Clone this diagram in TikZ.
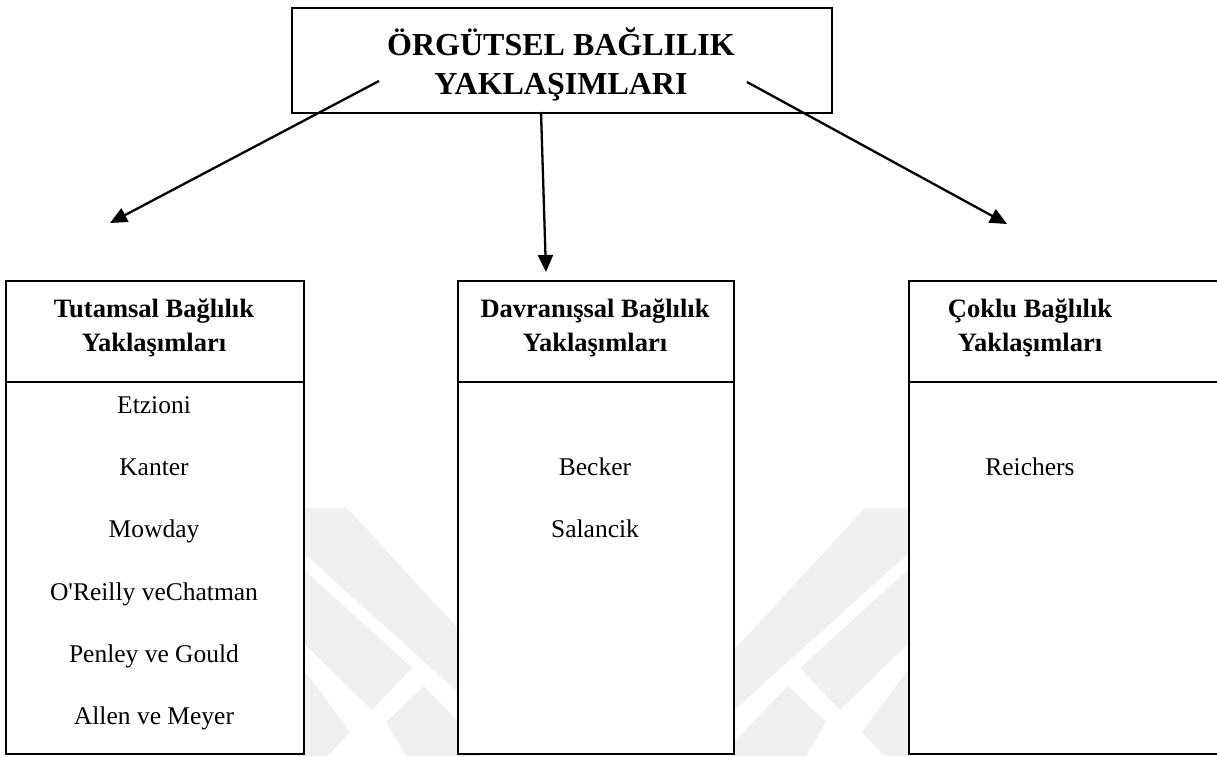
\documentclass[tikz,border=0pt]{standalone}
\usepackage{fontspec}
\setmainfont{Liberation Serif}
\usetikzlibrary{arrows.meta}
\begin{document}
\begin{tikzpicture}[x=1pt,y=-1pt,
  box/.style={draw, line width=2pt, fill=white, inner sep=0pt, anchor=north west},
  conn/.style={line width=2.3pt, -{Triangle[length=17pt,width=15pt]}},
  titlef/.style={font=\fontsize{32}{39}\selectfont\bfseries, align=center, inner sep=0pt},
  headf/.style={font=\fontsize{26.5}{34}\selectfont\bfseries, align=center, inner sep=0pt},
  itemf/.style={font=\fontsize{25.5}{30}\selectfont, anchor=base, inner sep=0pt},
  wm/.style={fill=black!6, draw=none}]
\useasboundingbox (0,0) rectangle (1217,756);
\clip (0,0) rectangle (1217,756);
% faint watermark (symmetric about x=606)
\foreach \s in {1,-1}{
  \begin{scope}[xshift=606pt, xscale=\s, xshift=-606pt]
    \fill[wm] (300,508) -- (347,508) -- (480,652) -- (480,712) -- (300,550) -- cycle;
    \fill[wm] (300,566) -- (412,668) -- (372,710) -- (300,640) -- cycle;
    \fill[wm] (300,664) -- (350,732) -- (328,756) -- (300,756) -- cycle;
    \fill[wm] (386,722) -- (424,686) -- (480,744) -- (480,756) -- (406,756) -- cycle;
  \end{scope}
}
% boxes
\node[box, minimum width=540pt, minimum height=105pt] (top) at (291,7) {};
\node[box, minimum width=298pt, minimum height=101pt] (h1) at (5,280) {};
\node[box, minimum width=298pt, minimum height=372pt] (b1) at (5,381) {};
\node[box, minimum width=276pt, minimum height=101pt] (h2) at (457,280) {};
\node[box, minimum width=276pt, minimum height=372pt] (b2) at (457,381) {};
\node[box, minimum width=340pt, minimum height=101pt] (h3) at (908,280) {};
\node[box, minimum width=340pt, minimum height=372pt] (b3) at (908,381) {};
% texts
\node[titlef] (title) at (561,64) {ÖRGÜTSEL BAĞLILIK\\YAKLAŞIMLARI};
\node[headf] (t1) at (154,328) {Tutamsal Bağlılık\\Yaklaşımları};
\node[headf] (t2) at (595,328) {Davranışsal Bağlılık\\Yaklaşımları};
\node[headf] (t3) at (1030,328) {Çoklu Bağlılık\\Yaklaşımları};
\node[itemf] (i1) at (154,413) {Etzioni};
\node[itemf] (i2) at (154,475) {Kanter};
\node[itemf] (i3) at (154,537) {Mowday};
\node[itemf] (i4) at (154,600) {O\textquotesingle Reilly veChatman};
\node[itemf] (i5) at (154,662) {Penley ve Gould};
\node[itemf] (i6) at (154,724) {Allen ve Meyer};
\node[itemf] (m1) at (595,475) {Becker};
\node[itemf] (m2) at (595,537) {Salancik};
\node[itemf] (r1) at (1030,475) {Reichers};
% connectors
\coordinate (s1) at (379,81);
\coordinate (e1) at (110,223);
\coordinate (s2) at (541,112);
\coordinate (e2) at (546,272);
\coordinate (s3) at (747,82);
\coordinate (e3) at (1007,224);
\draw[conn] (s1) -- (e1);
\draw[conn] (s2) -- (e2);
\draw[conn] (s3) -- (e3);
\end{tikzpicture}
\end{document}
